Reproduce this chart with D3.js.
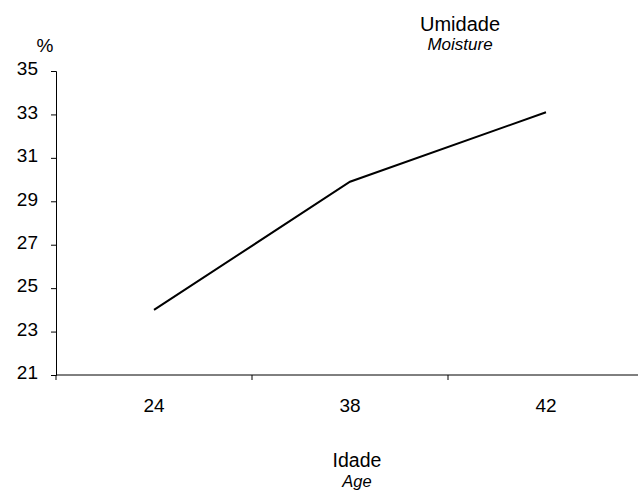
<!DOCTYPE html>
<html>
<head>
<meta charset="utf-8">
<script src="https://cdn.jsdelivr.net/npm/d3@7"></script>
<style>
  html, body { margin: 0; padding: 0; background: #fff; }
  svg { display: block; }
  text { font-family: "Liberation Sans", Arial, sans-serif; fill: #000; }
</style>
</head>
<body>
<svg id="chart" width="638" height="491"></svg>
<script>
const categories = ["24", "38", "42"];
const moisture = [24.0, 29.9, 33.1];
const yTicks = [21, 23, 25, 27, 29, 31, 33, 35];

const svg = d3.select("#chart");
const plotLeft = 56, plotRight = 644, plotTop = 71, plotBottom = 375;

const x = d3.scaleBand().domain(categories).range([plotLeft, plotRight]).padding(0);
const y = d3.scaleLinear().domain([21, 35]).range([plotBottom, plotTop]);

// Y axis
const yAxis = d3.axisLeft(y).tickValues(yTicks).tickSize(5).tickPadding(13).tickFormat(d3.format("d"));
const gy = svg.append("g").attr("transform", `translate(${plotLeft},0)`).call(yAxis);
gy.select(".domain").attr("stroke", "#000").attr("stroke-width", 1);
gy.selectAll(".tick line").attr("stroke", "#000");
gy.selectAll(".tick text").attr("font-size", 19).attr("font-family", "'Liberation Sans', Arial, sans-serif").attr("dy", "0.2em");

// X axis with ticks at band boundaries
const gx = svg.append("g").attr("transform", `translate(0,${plotBottom})`);
gx.append("line").attr("x1", plotLeft).attr("x2", plotRight).attr("y1", 0).attr("y2", 0).attr("stroke", "#000");
const bounds = categories.map(c => x(c)).concat([x(categories[categories.length - 1]) + x.bandwidth()]);
gx.selectAll(".bt").data(bounds).join("line").attr("class", "bt")
  .attr("x1", d => d).attr("x2", d => d).attr("y1", 0).attr("y2", 5).attr("stroke", "#000");
gx.selectAll(".xl").data(categories).join("text").attr("class", "xl")
  .attr("x", d => x(d) + x.bandwidth() / 2).attr("y", 37)
  .attr("text-anchor", "middle").attr("font-size", 19).text(d => d);

// Line
const line = d3.line().x((d, i) => x(categories[i]) + x.bandwidth() / 2).y(d => y(d));
svg.append("path").datum(moisture).attr("d", line).attr("fill", "none").attr("stroke", "#000").attr("stroke-width", 2);

// Titles
svg.append("text").attr("x", 460).attr("y", 31).attr("text-anchor", "middle").attr("font-size", 20).text("Umidade");
svg.append("text").attr("x", 460).attr("y", 50).attr("text-anchor", "middle").attr("font-size", 17).attr("font-style", "italic").text("Moisture");
svg.append("text").attr("x", 45).attr("y", 52).attr("text-anchor", "middle").attr("font-size", 19).text("%");
svg.append("text").attr("x", 357).attr("y", 467).attr("text-anchor", "middle").attr("font-size", 19.5).text("Idade");
svg.append("text").attr("x", 357).attr("y", 487).attr("text-anchor", "middle").attr("font-size", 16.5).attr("font-style", "italic").text("Age");
</script>
</body>
</html>
